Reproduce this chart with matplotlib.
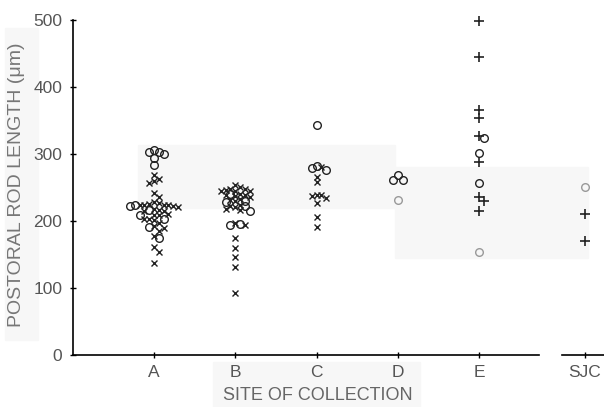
import matplotlib
matplotlib.use('Agg')
import matplotlib.pyplot as plt
from matplotlib.patches import Rectangle

plt.rcParams['font.family'] = ['Liberation Sans', 'DejaVu Sans']

sites = ['A', 'B', 'C', 'D', 'E', 'SJC']
site_pos = [1, 2, 3, 4, 5, 6.3]

# postoral rod length (um), by site and symbol
a_cross = [268, 262, 259, 257, 241, 235, 228, 225, 224, 223, 222, 224, 226, 221, 223,
           216, 215, 217, 214, 209, 208, 210, 202, 201, 203, 196, 192, 190, 185, 177,
           161, 154, 137]
a_circle = [305, 303, 302, 300, 293, 283, 223, 222, 216, 209, 203, 191, 174]
b_cross = [253, 250, 248, 246, 245, 247, 244, 245, 240, 238, 237, 239, 236, 232, 229,
           231, 222, 224, 221, 218, 216, 196, 193, 174, 159, 146, 131, 93]
b_circle = [240, 230, 228, 222, 215, 195, 194]
c_cross = [280, 266, 258, 238, 234, 237, 239, 226, 206, 191]
c_circle = [343, 282, 275, 278]
d_circle = [268, 261, 261]
d_circle_pale = [231]
e_plus = [498, 444, 365, 353, 326, 287, 236, 230, 215]
e_circle = [323, 301, 256]
e_circle_pale = [154]
sjc_plus = [210, 170]
sjc_circle_pale = [251]

groups = {
    'A': [(a_cross, 'x'), (a_circle, 'o')],
    'B': [(b_cross, 'x'), (b_circle, 'o')],
    'C': [(c_cross, 'x'), (c_circle, 'o')],
    'D': [(d_circle, 'o'), (d_circle_pale, 'op')],
    'E': [(e_plus, '+'), (e_circle, 'o'), (e_circle_pale, 'op')],
    'SJC': [(sjc_plus, '+'), (sjc_circle_pale, 'op')],
}

# px per data unit, used to spread overlapping symbols sideways
SX, SY = 81.25, 0.671
D = 4.8


def swarm(points, center):
    placed = []
    for v, m in sorted(points, key=lambda p: -p[0]):
        k = 0
        while True:
            off = ((k + 1) // 2) * (1 if k % 2 else -1) * D / SX
            cx = center + off
            if all(((cx - px) * SX) ** 2 + ((v - pv) * SY) ** 2 >= D ** 2 for px, pv, _ in placed):
                break
            k += 1
        placed.append((cx, v, m))
    return placed


fig = plt.figure(figsize=(6.04, 4.07), dpi=100)

# faint paste-up shading of the scanned original
for x0, y0, w, h in [(138, 145, 257, 63), (395, 167, 193, 91), (5, 28, 33, 312), (213, 362, 207, 45)]:
    fig.patches.append(Rectangle((x0 / 604, 1 - (y0 + h) / 407), w / 604, h / 407,
                                 transform=fig.transFigure, color='#f7f7f7', zorder=-10))

ax = fig.add_axes([72.75 / 604, 52 / 407, (604 - 72.75) / 604, 335.5 / 407])
ax.patch.set_alpha(0)
ax.set_xlim(0, (604 - 72.75) / SX)
ax.set_ylim(0, 500)

style = {
    'x': dict(marker='x', ms=5, mew=1.0, color='#222222'),
    'o': dict(marker='o', ms=5.5, mew=1.0, mfc='none', mec='#222222'),
    'op': dict(marker='o', ms=5.5, mew=1.0, mfc='none', mec='#999999'),
    '+': dict(marker='+', ms=7, mew=1.2, color='#222222'),
}

for site, pos in zip(sites, site_pos):
    pts = [(v, m) for vals, m in groups[site] for v in vals]
    for cx, v, m in swarm(pts, pos):
        ax.plot(cx, v, ls='none', clip_on=False, **style[m])

for side in ['top', 'right', 'bottom']:
    ax.spines[side].set_visible(False)
ax.spines['left'].set_linewidth(1.2)
ax.plot([0, 5.74], [0, 0], color='black', lw=1.2, clip_on=False)
ax.plot([6.02, 6.54], [0, 0], color='black', lw=1.2, clip_on=False)

ax.set_xticks(site_pos)
ax.set_xticklabels(sites)
ax.set_yticks([0, 100, 200, 300, 400, 500])
ax.tick_params(axis='both', direction='inout', length=5, width=1, labelsize=12.5,
               labelcolor='#555555', pad=5)

fig.text(17 / 604, 1 - 185 / 407, 'POSTORAL ROD LENGTH (\u03bcm)', rotation=90,
         ha='center', va='center', fontsize=14, color='#777777')
fig.text(318 / 604, 1 - 396 / 407, 'SITE OF COLLECTION', ha='center', va='center',
         fontsize=13, color='#666666')

fig.savefig('out.png', dpi=100)
